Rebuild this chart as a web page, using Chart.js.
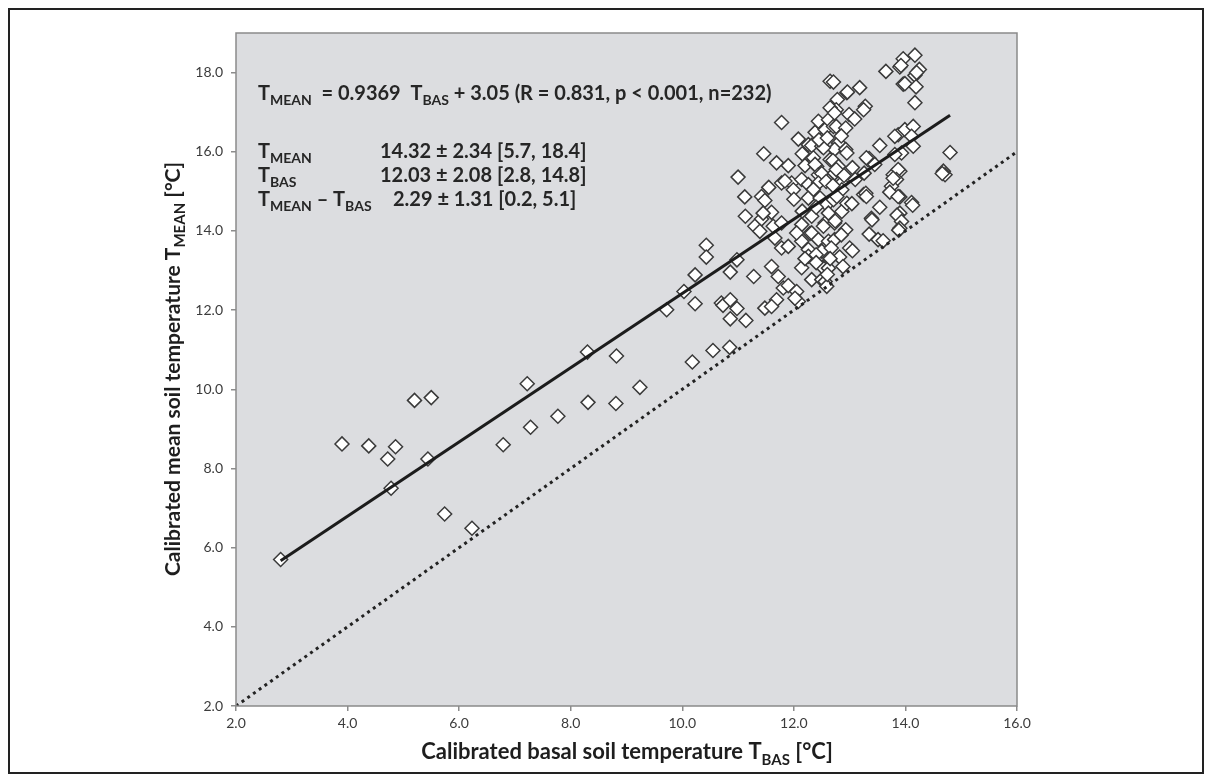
<!DOCTYPE html>
<html>
<head>
<meta charset="utf-8">
<title>Calibrated basal vs mean soil temperature</title>
<script src="https://cdn.jsdelivr.net/npm/chart.js@4.4.0/dist/chart.umd.min.js"></script>
<style>
  html, body { margin: 0; padding: 0; background: #fff; }
  #wrap { width: 1212px; height: 782px; }
</style>
</head>
<body>
<div id="wrap"><canvas id="chart" width="1212" height="782"></canvas></div>
<script>
// calibrated basal soil temperature (x) and mean soil temperature (y)
var basalTemp = [
    2.80, 3.90, 4.38, 4.86, 4.72, 4.78, 5.20, 5.50, 5.44, 5.74, 6.23, 6.79, 7.22, 7.28, 7.77, 8.31, 8.30, 8.82, 8.81, 9.24,
    9.72, 10.03, 10.23, 10.23, 10.43, 10.43, 10.18, 10.55, 10.85, 10.70, 10.73, 10.86, 10.98, 10.86, 11.14, 10.86, 10.98, 11.28, 11.00,
    11.12, 11.42, 11.48, 11.13, 11.42, 11.60, 11.30, 11.39, 11.63, 11.78, 11.66, 11.78, 11.90, 11.60, 11.72, 11.81, 11.90, 12.05,
    11.69, 11.48, 11.60, 12.08, 12.02, 11.46, 11.69, 11.90, 11.78, 11.78, 11.96, 11.99, 11.84, 11.45,
    12.08, 12.26, 12.38, 12.44, 12.56, 12.32, 12.50, 12.20, 12.35, 12.20, 12.41, 12.38, 12.14, 12.26, 12.44, 12.50, 12.44, 12.29,
    12.26, 12.47, 12.59, 12.14, 12.32, 12.56, 12.29, 12.53, 12.32, 12.44, 12.14, 12.26, 12.26, 12.50, 12.14, 12.32, 12.53, 12.50,
    12.53, 12.56, 12.59, 12.20, 12.40, 12.00,
    12.65, 12.71, 12.78, 12.76, 12.65, 12.62, 12.73, 12.71, 12.76, 12.93, 12.80, 12.73, 12.93, 12.95, 12.53, 12.65, 12.70, 12.73,
    12.80, 12.76, 12.86, 12.86, 12.71, 12.77, 12.86, 12.73, 12.74, 12.93, 12.62, 12.73, 12.67, 13.00, 12.82, 12.62, 12.60, 12.95,
    12.96, 12.99, 12.90, 12.85, 12.95,
    13.18, 13.28, 13.25, 13.09, 13.04, 13.25, 13.29, 13.30, 13.39, 13.35, 13.33, 13.35, 13.45, 13.26, 13.10, 13.40, 13.05,
    13.54, 13.54, 13.51, 13.65, 13.90, 13.96, 13.96, 13.99, 13.87, 13.81, 13.99, 13.93, 13.81, 13.78, 13.90, 13.87, 13.84, 13.75,
    13.78, 13.72, 13.90, 13.87, 13.90, 13.85, 13.93, 13.90, 13.88, 13.60,
    14.17, 14.25, 14.17, 14.19, 14.17, 14.14, 14.11, 14.14, 14.11, 14.13, 14.80, 14.68, 14.71, 14.66, 14.20,
    12.45, 12.60, 12.15, 12.58, 12.35, 12.62, 12.40, 12.15, 12.05, 12.40, 12.65, 12.88, 11.55, 12.70, 13.05, 13.30, 12.85, 13.92
];
var meanTemp = [
    5.70, 8.62, 8.57, 8.55, 8.24, 7.50, 9.72, 9.79, 8.24, 6.85, 6.49, 8.60, 10.14, 9.04, 9.32, 9.67, 10.94, 10.84, 9.64, 10.05,
    12.01, 12.47, 12.89, 12.16, 13.64, 13.34, 10.69, 10.98, 11.06, 12.18, 12.12, 12.26, 12.04, 11.78, 11.74, 12.96, 13.27, 12.85, 15.36,
    14.86, 14.87, 14.77, 14.37, 14.30, 14.47, 14.12, 13.99, 14.12, 14.20, 13.82, 13.57, 13.61, 13.10, 12.85, 12.56, 12.62, 12.47,
    12.26, 12.05, 12.09, 12.22, 12.30, 15.95, 15.72, 15.65, 16.74, 15.21, 15.21, 15.04, 15.26, 14.45,
    16.32, 16.18, 16.49, 16.77, 16.56, 16.16, 16.14, 15.89, 15.85, 15.65, 15.63, 15.68, 15.30, 15.17, 15.42, 15.45, 15.21, 14.87,
    14.83, 14.83, 14.66, 14.16, 14.37, 14.20, 13.94, 14.12, 13.95, 13.78, 13.74, 13.53, 13.36, 13.49, 13.07, 12.77, 13.10, 12.77,
    13.06, 12.72, 12.60, 13.30, 13.40, 14.80,
    17.78, 17.76, 17.32, 17.06, 17.11, 16.81, 16.98, 16.64, 16.64, 16.60, 16.22, 16.06, 16.06, 15.97, 16.10, 15.80, 15.78, 15.46,
    15.63, 15.55, 15.21, 15.04, 14.79, 14.87, 14.49, 14.20, 14.25, 14.03, 13.74, 13.78, 13.57, 13.57, 13.34, 13.06, 12.90, 17.49,
    17.51, 16.94, 15.40, 13.90, 14.70,
    17.62, 17.15, 17.06, 16.83, 14.69, 14.92, 14.95, 14.87, 14.32, 13.92, 15.80, 15.83, 15.68, 15.46, 15.30, 14.28, 13.50,
    16.16, 14.60, 13.78, 18.03, 18.14, 18.35, 17.71, 17.72, 16.43, 16.39, 16.56, 15.97, 15.93, 15.42, 15.51, 15.55, 15.30, 15.13,
    15.33, 14.98, 14.86, 14.87, 14.45, 14.40, 14.24, 14.07, 14.02, 13.75,
    18.44, 18.08, 17.93, 17.64, 17.24, 16.64, 16.39, 16.14, 14.72, 14.65, 15.98, 15.51, 15.42, 15.45, 18.00,
    16.30, 16.35, 15.95, 15.25, 15.05, 14.45, 14.60, 14.50, 13.95, 13.20, 13.30, 13.10, 15.10, 15.15, 15.60, 15.85, 16.40, 18.18
];

// regression line end points and the 1:1 line
var fitBasal = [2.8, 14.8];
var fitMean = [5.67, 16.92];
var parityLine = [2, 16];

var xMin = 2, xMax = 16, yMin = 2, yMax = 19, yLastTick = 18, tickStep = 2;

// [text, isSubscript]
var equationText = [['T', 0], ['MEAN', 1], ['  = 0.9369  T', 0], ['BAS', 1], [' + 3.05 (R = 0.831, p < 0.001, n=232)', 0]];
var statLabels = [
    [['T', 0], ['MEAN', 1]],
    [['T', 0], ['BAS', 1]],
    [['T', 0], ['MEAN', 1], [' \u2013 T', 0], ['BAS', 1]]
];
var statValues = ['14.32 \u00b1 2.34 [5.7, 18.4]', '12.03 \u00b1 2.08 [2.8, 14.8]', '2.29 \u00b1 1.31 [0.2, 5.1]'];
var xTitle = [['Calibrated basal soil temperature T', 0], ['BAS', 1], [' [\u00b0C]', 0]];
var yTitle = [['Calibrated mean soil temperature T', 0], ['MEAN', 1], [' [\u00b0C]', 0]];

var FONT = 'Lato, "Open Sans", sans-serif';

$ready();

function $ready() {
    var points = basalTemp.map(function (x, i) {
        return { x: x, y: meanTemp[i] };
    });
    var fit = fitBasal.map(function (x, i) {
        return { x: x, y: fitMean[i] };
    });
    var parity = parityLine.map(function (v) {
        return { x: v, y: v };
    });

    var ctx = document.getElementById('chart').getContext('2d');
    new Chart(ctx, {
        type: 'scatter',
        data: {
            datasets: [
                {
                    label: 'fit',
                    data: fit,
                    showLine: true,
                    borderColor: '#1c1c1c',
                    borderWidth: 3,
                    pointRadius: 0,
                    order: 1
                },
                {
                    label: '1:1',
                    data: parity,
                    showLine: true,
                    borderColor: '#222',
                    borderWidth: 3,
                    borderDash: [3, 4],
                    pointRadius: 0,
                    order: 1
                },
                {
                    label: 'samples',
                    data: points,
                    pointStyle: 'rectRot',
                    pointRadius: 7,
                    borderWidth: 1.5,
                    borderColor: '#3a3a3a',
                    backgroundColor: '#ffffff',
                    order: 2
                }
            ]
        },
        options: {
            responsive: false,
            animation: false,
            devicePixelRatio: 1,
            layout: { padding: { left: 0, top: 33, right: 195, bottom: 0 } },
            plugins: { legend: { display: false }, tooltip: { enabled: false } },
            scales: {
                x: {
                    type: 'linear',
                    min: xMin,
                    max: xMax,
                    afterFit: function (scale) { scale.height = 76; },
                    grid: { drawOnChartArea: false, drawTicks: true, tickLength: 5, color: '#8c8c8c', lineWidth: 1.5 },
                    border: { display: false },
                    ticks: {
                        stepSize: tickStep,
                        padding: 4,
                        color: '#3c3c3c',
                        font: { family: FONT, size: 14 },
                        maxRotation: 0,
                        callback: function (v) { return v.toFixed(1); }
                    }
                },
                y: {
                    type: 'linear',
                    min: yMin,
                    max: yMax,
                    afterFit: function (scale) { scale.width = 236; },
                    afterBuildTicks: function (scale) {
                        scale.ticks = scale.ticks.filter(function (t) { return t.value <= yLastTick; });
                    },
                    grid: { drawOnChartArea: false, drawTicks: true, tickLength: 5, color: '#8c8c8c', lineWidth: 1.5 },
                    border: { display: false },
                    ticks: {
                        stepSize: tickStep,
                        padding: 8,
                        color: '#3c3c3c',
                        font: { family: FONT, size: 14 },
                        callback: function (v) { return v.toFixed(1); }
                    }
                }
            }
        },
        plugins: [framePlugin()]
    });
}

function drawRich(ctx, parts, x, y, size) {
    var cx = x;
    parts.forEach(function (p) {
        var s = p[1] ? Math.round(size * 0.7) : size;
        ctx.font = 'bold ' + s + 'px ' + FONT;
        ctx.fillText(p[0], cx, p[1] ? y + size * 0.25 : y);
        cx += ctx.measureText(p[0]).width;
    });
    return cx - x;
}

function richWidth(ctx, parts, size) {
    var w = 0;
    parts.forEach(function (p) {
        var s = p[1] ? Math.round(size * 0.7) : size;
        ctx.font = 'bold ' + s + 'px ' + FONT;
        w += ctx.measureText(p[0]).width;
    });
    return w;
}

function framePlugin() {
    return {
        id: 'frame',
        beforeDraw: function (chart) {
            var c = chart.ctx, a = chart.chartArea;
            c.save();
            c.fillStyle = '#ffffff';
            c.fillRect(0, 0, chart.width, chart.height);
            c.fillStyle = '#dcdde0';
            c.fillRect(a.left, a.top, a.right - a.left, a.bottom - a.top);
            c.restore();
        },
        afterDraw: function (chart) {
            var c = chart.ctx, a = chart.chartArea;
            c.save();
            // plot area border
            c.strokeStyle = '#8a8a8a';
            c.lineWidth = 1.5;
            c.strokeRect(a.left, a.top, a.right - a.left, a.bottom - a.top);
            // outer frame
            c.strokeStyle = '#222';
            c.lineWidth = 2;
            c.strokeRect(9, 9, 1194, 764);

            c.fillStyle = '#262626';
            c.textBaseline = 'alphabetic';
            c.textAlign = 'left';
            drawRich(c, equationText, 258, 100, 20);
            var rows = [158, 182, 206];
            var valueX = [380, 380, 393];
            statLabels.forEach(function (parts, i) {
                drawRich(c, parts, 258, rows[i], 20);
                drawRich(c, [[statValues[i], 0]], valueX[i], rows[i], 20);
            });

            // axis titles
            c.fillStyle = '#1e1e1e';
            var w = richWidth(c, xTitle, 22);
            drawRich(c, xTitle, 627 - w / 2, 759, 22);
            c.translate(180, 369);
            c.rotate(-Math.PI / 2);
            w = richWidth(c, yTitle, 21);
            drawRich(c, yTitle, -w / 2, 0, 21);
            c.restore();
        }
    };
}
</script>
</body>
</html>
